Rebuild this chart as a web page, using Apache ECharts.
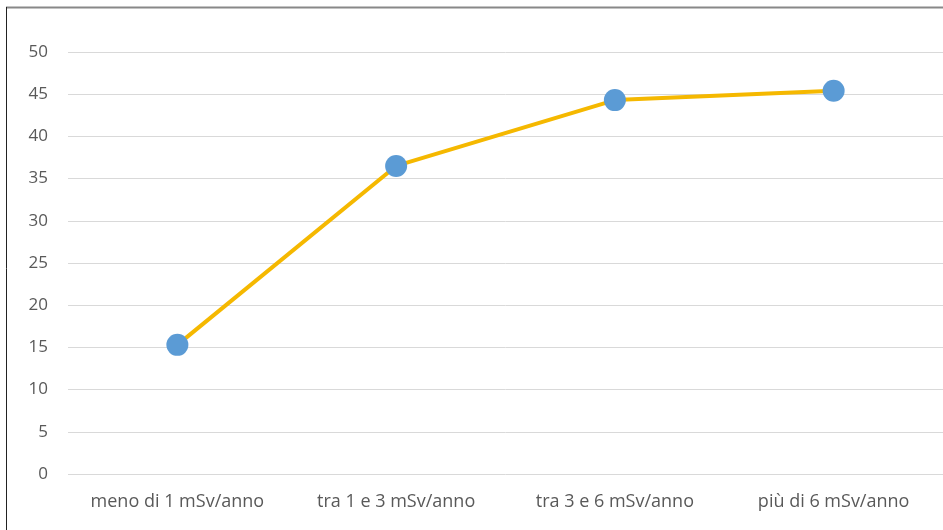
<!DOCTYPE html>
<html>
<head>
<meta charset="utf-8">
<script src="https://cdn.jsdelivr.net/npm/echarts@6/dist/echarts.min.js"></script>
<style>
  html, body { margin: 0; padding: 0; background: #ffffff; }
  #chart { width: 943px; height: 530px; }
</style>
</head>
<body>
<div id="chart"></div>
<script>
// Dose categories (mSv per year) and their values
const categories = ['meno di 1 mSv/anno', 'tra 1 e 3 mSv/anno', 'tra 3 e 6 mSv/anno', 'più di 6 mSv/anno'];
const values = [15.3, 36.5, 44.3, 45.4];
const yTicks = { min: 0, max: 50, interval: 5 };

const chart = echarts.init(document.getElementById('chart'), null, { renderer: 'canvas' });

chart.setOption({
  backgroundColor: '#ffffff',
  animation: false,
  textStyle: { fontFamily: 'Open Sans, DejaVu Sans, sans-serif' },
  grid: { left: 68, right: 0, top: 52, bottom: 56 },
  xAxis: {
    type: 'category',
    data: categories,
    boundaryGap: true,
    axisLine: { show: false },
    axisTick: { show: false },
    axisLabel: { color: '#595959', fontSize: 18, margin: 19, interval: 0, hideOverlap: false }
  },
  yAxis: {
    type: 'value',
    min: yTicks.min,
    max: yTicks.max,
    interval: yTicks.interval,
    axisLine: { show: false },
    axisTick: { show: false },
    axisLabel: { color: '#595959', fontSize: 17, margin: 20 },
    splitLine: { lineStyle: { color: '#d9d9d9', width: 1 } }
  },
  series: [{
    type: 'line',
    data: values,
    symbol: 'circle',
    symbolSize: 22,
    lineStyle: { color: '#f5b800', width: 4 },
    itemStyle: { color: '#5b9bd5' },
    z: 3
  }],
  graphic: [
    // frame edges along the top and left
    { type: 'line', shape: { x1: 6, y1: 7.5, x2: 943, y2: 7.5 }, style: { stroke: '#888888', lineWidth: 2 } },
    { type: 'line', shape: { x1: 6.5, y1: 7, x2: 6.5, y2: 530 }, style: { stroke: '#222222', lineWidth: 1 } }
  ]
});
</script>
</body>
</html>
